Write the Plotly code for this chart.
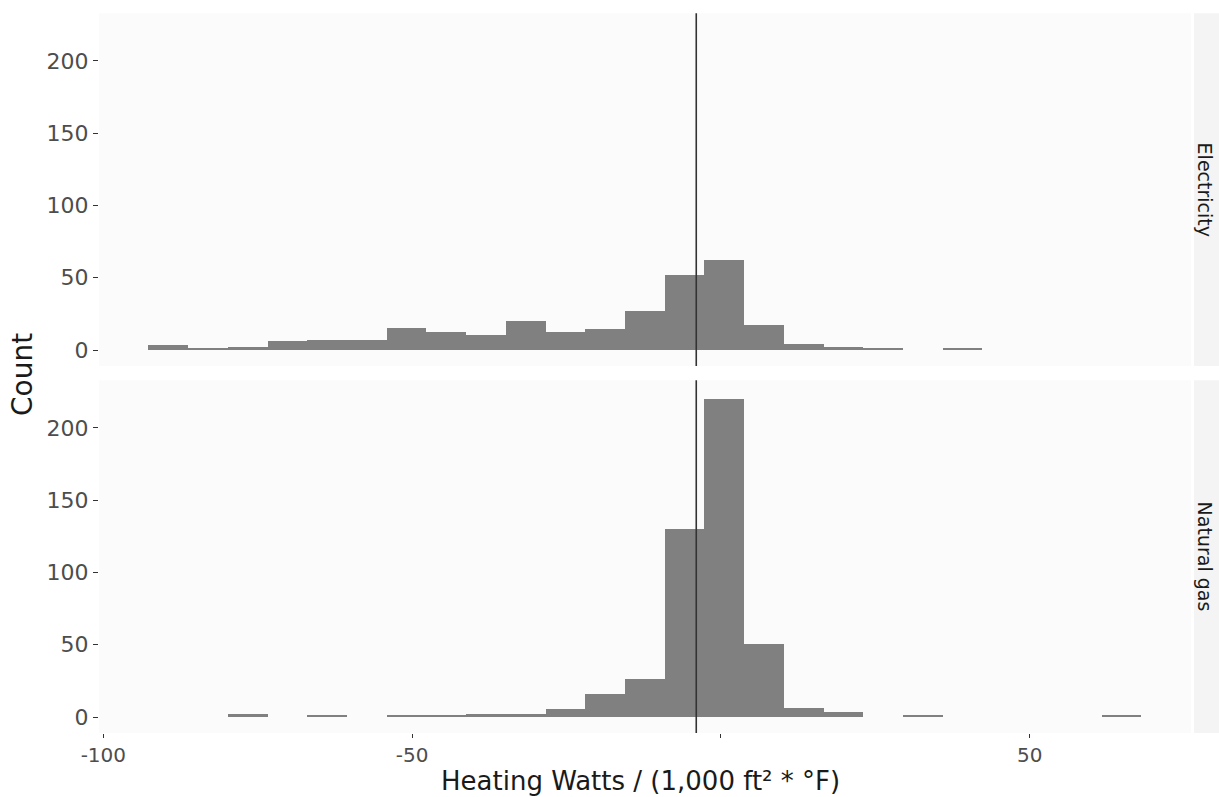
import numpy as np
import plotly.graph_objects as go

# Histogram binning (25 equal bins shared by both facets)
bin_start = -92.7
bin_width = 6.43
n_bins = 25

# Counts per bin, left to right
electricity_counts = [3, 1, 2, 6, 7, 7, 15, 12, 10, 20, 12, 14, 27, 52, 62, 17, 4, 2, 1, 0, 1, 0, 0, 0, 0]
natural_gas_counts = [0, 0, 2, 0, 1, 0, 1, 1, 2, 2, 5, 16, 26, 130, 220, 50, 6, 3, 0, 1, 0, 0, 0, 0, 1]

facet_labels = ["Electricity", "Natural gas"]
reference_x = -4.0

x_tickvals = [-100, -50, 0, 50]
x_ticktext = ["-100", "-50", "", "50"]
y_tickvals = [0, 50, 100, 150, 200]

x_range = [-100.7, 76.1]
y_range = [-11, 233]

edges = bin_start + bin_width * np.arange(n_bins + 1)
centers = (edges[:-1] + edges[1:]) / 2

W, H = 1219, 797
FONT = "DejaVu Sans"
BAR = "#808080"
PANEL_BG = "#fbfbfb"
STRIP_BG = "#f4f4f4"

# panel positions in pixels
px_left, px_right = 99, 1191
top_panel = (13.3, 365.9)
bot_panel = (380.3, 732.9)


def ydom(p):
    return [1 - p[1] / H, 1 - p[0] / H]


fig = go.Figure()

fig.add_trace(go.Bar(x=centers, y=electricity_counts, width=bin_width,
                     marker=dict(color=BAR, line=dict(width=0)),
                     xaxis="x2", yaxis="y", showlegend=False))
fig.add_trace(go.Bar(x=centers, y=natural_gas_counts, width=bin_width,
                     marker=dict(color=BAR, line=dict(width=0)),
                     xaxis="x", yaxis="y2", showlegend=False))

xdom = [px_left / W, px_right / W]
ytickfont = dict(family=FONT, size=22, color="#4d4d4d")
xtickfont = dict(family=FONT, size=20, color="#4d4d4d")

common = dict(showgrid=False, zeroline=False, showline=False, automargin=False)

fig.update_layout(
    width=W, height=H,
    margin=dict(l=0, r=0, t=0, b=0, pad=0, autoexpand=False),
    paper_bgcolor="white",
    plot_bgcolor="rgba(0,0,0,0)",
    bargap=0,
    font=dict(family=FONT),
    xaxis=dict(domain=xdom, anchor="y2", range=x_range, tickvals=x_tickvals,
               ticktext=x_ticktext, ticks="outside", ticklen=4, tickwidth=1,
               tickcolor="#333333", tickfont=xtickfont, **common),
    xaxis2=dict(domain=xdom, anchor="y", range=x_range, matches="x",
                showticklabels=False, ticks="", **common),
    yaxis=dict(domain=ydom(top_panel), anchor="x2", range=y_range,
               tickvals=y_tickvals, ticks="outside", ticklen=5, tickwidth=1,
               tickcolor="#333333", tickfont=ytickfont, **common),
    yaxis2=dict(domain=ydom(bot_panel), anchor="x", range=y_range,
                tickvals=y_tickvals, ticks="outside", ticklen=5, tickwidth=1,
                tickcolor="#333333", tickfont=ytickfont, **common),
)

shapes = []
annotations = []
for panel, label in [(top_panel, facet_labels[0]), (bot_panel, facet_labels[1])]:
    yd = ydom(panel)
    # panel background
    shapes.append(dict(type="rect", xref="paper", yref="paper",
                       x0=xdom[0], x1=xdom[1], y0=yd[0], y1=yd[1],
                       fillcolor=PANEL_BG, line=dict(width=0), layer="below"))
    # facet strip
    shapes.append(dict(type="rect", xref="paper", yref="paper",
                       x0=1194 / W, x1=1.0, y0=yd[0], y1=yd[1],
                       fillcolor=STRIP_BG, line=dict(width=0), layer="below"))
    annotations.append(dict(text=label, xref="paper", yref="paper",
                            x=1205 / W, y=(yd[0] + yd[1]) / 2, showarrow=False,
                            textangle=90, xanchor="center", yanchor="middle",
                            font=dict(family=FONT, size=19, color="#1a1a1a")))

# reference line in both panels
for xr, yr in [("x2", "y domain"), ("x", "y2 domain")]:
    shapes.append(dict(type="line", xref=xr, yref=yr, x0=reference_x, x1=reference_x,
                       y0=0, y1=1, line=dict(color="#333333", width=1.6), layer="above"))

annotations.append(dict(text="Count", xref="paper", yref="paper",
                        x=22 / W, y=1 - 375 / H, showarrow=False, textangle=-90,
                        xanchor="center", yanchor="middle",
                        font=dict(family=FONT, size=28, color="#1a1a1a")))
annotations.append(dict(text="Heating Watts / (1,000 ft² * °F)", xref="paper", yref="paper",
                        x=640 / W, y=1 - 781 / H, showarrow=False,
                        xanchor="center", yanchor="middle",
                        font=dict(family=FONT, size=26, color="#1a1a1a")))

fig.update_layout(shapes=shapes, annotations=annotations)

fig.write_html("out.html")
